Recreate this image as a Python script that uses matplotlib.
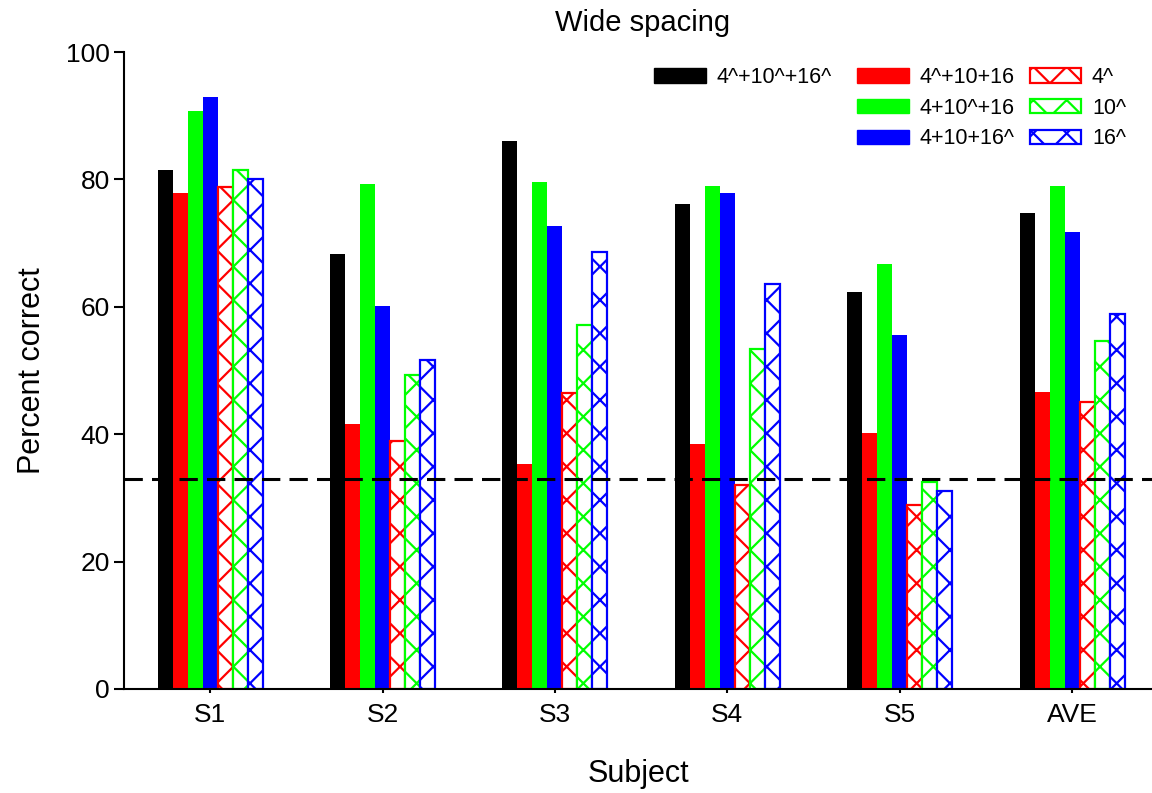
import matplotlib
matplotlib.use('Agg')
import matplotlib.pyplot as plt
from matplotlib.patches import Patch

plt.rcParams['font.family'] = ['Liberation Sans', 'DejaVu Sans']
plt.rcParams['hatch.linewidth'] = 1.6

subjects = ['S1', 'S2', 'S3', 'S4', 'S5', 'AVE']
series_labels = ['4^+10^+16^', '4^+10+16', '4+10^+16', '4+10+16^', '4^', '10^', '16^']
s_all = [81.5, 68.3, 86.0, 76.1, 62.3, 74.8]
s_4_only_shift = [77.9, 41.6, 35.3, 38.5, 40.2, 46.7]
s_10_only_shift = [90.8, 79.3, 79.6, 79.0, 66.7, 79.0]
s_16_only_shift = [93.0, 60.1, 72.7, 77.8, 55.6, 71.8]
s_4_single = [78.8, 39.0, 46.5, 32.0, 28.9, 45.1]
s_10_single = [81.5, 49.3, 57.1, 53.4, 32.5, 54.6]
s_16_single = [80.1, 51.6, 68.6, 63.6, 31.1, 58.9]
chance = 33.0

values = [s_all, s_4_only_shift, s_10_only_shift, s_16_only_shift,
          s_4_single, s_10_single, s_16_single]
colors = ['black', '#ff0000', '#00ff00', '#0000ff', '#ff0000', '#00ff00', '#0000ff']
hatched = [False, False, False, False, True, True, True]

W, H = 1152, 793
fig = plt.figure(figsize=(W / 100, H / 100), dpi=100)
ax = fig.add_axes([124 / W, (H - 689) / H, (W - 124) / W, (689 - 52) / H])

w = 0.087
handles = []
for k, (vals, col, hat, lab) in enumerate(zip(values, colors, hatched, series_labels)):
    xs = [i + (k - 3) * w for i in range(len(subjects))]
    if hat:
        ax.bar(xs, vals, w, facecolor='white', edgecolor=col, hatch='x', linewidth=1.6)
        handles.append(Patch(facecolor='white', edgecolor=col, hatch='x', linewidth=1.6, label=lab))
    else:
        ax.bar(xs, vals, w, color=col, linewidth=0)
        handles.append(Patch(facecolor=col, edgecolor=col, label=lab))

ax.axhline(chance, color='black', linewidth=2.2, dashes=(6, 3))

ax.set_xlim(-0.5, (1152 - 210) / 172.4)
ax.set_ylim(0, 100)
ax.set_xticks(range(len(subjects)))
ax.set_xticklabels(subjects)
ax.set_yticks([0, 20, 40, 60, 80, 100])
for s in ['top', 'right']:
    ax.spines[s].set_visible(False)
for s in ['left', 'bottom']:
    ax.spines[s].set_linewidth(1.5)
ax.tick_params(axis='y', direction='out', length=7, width=1.5, labelsize=19, pad=3)
ax.tick_params(axis='x', direction='out', length=3, width=1.5, labelsize=19, pad=7)

ax.set_xlabel('Subject', fontsize=22, labelpad=23)
ax.set_ylabel('Percent correct', fontsize=22, labelpad=14)
fig.text(643 / W, 1 - 23 / H, 'Wide spacing', fontsize=21, ha='center', va='center')

leg_kw = dict(frameon=False, fontsize=15.5, handlelength=2.4, handleheight=0.65,
              handletextpad=0.5, borderpad=0, borderaxespad=0, labelspacing=0.45,
              loc='upper left', bbox_transform=fig.transFigure)
leg1 = ax.legend(handles=handles[:1], bbox_to_anchor=(654 / W, 1 - 67 / H), **leg_kw)
ax.add_artist(leg1)
leg2 = ax.legend(handles=handles[1:], ncol=2, columnspacing=0.7,
                 bbox_to_anchor=(857 / W, 1 - 67 / H), **leg_kw)

fig.savefig('out.png', dpi=100, facecolor='white')
